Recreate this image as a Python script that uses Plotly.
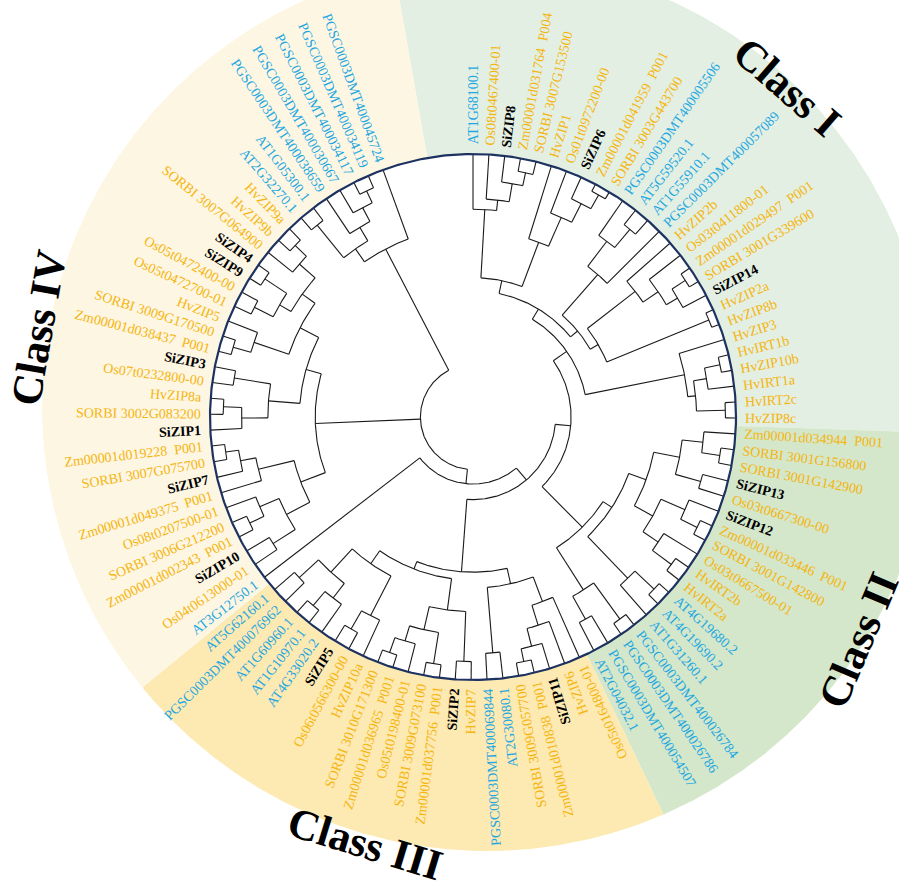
import math
import plotly.graph_objects as go

# ---------------- data ----------------
leaf_labels = [
    "AT1G68100.1", "Os08t0467400-01", "SiZIP8", "Zm00001d031764 P004", "SORBI 3007G153500",
    "HvZIP1", "Os01t0972200-00", "SiZIP6", "Zm00001d041959 P001", "SORBI 3003G443700",
    "PGSC0003DMT400005506", "AT5G59520.1", "AT1G55910.1", "PGSC0003DMT400057089", "HvZIP2b",
    "Os03t0411800-01", "Zm00001d029497 P001", "SORBI 3001G339600", "SiZIP14", "HvZIP2a",
    "HvZIP8b", "HvZIP3", "HvIRT1b", "HvZIP10b", "HvIRT1a", "HvIRT2c", "HvZIP8c",
    "Zm00001d034944 P001", "SORBI 3001G156800", "SORBI 3001G142900", "SiZIP13", "Os03t0667300-00",
    "SiZIP12", "Zm00001d033446 P001", "SORBI 3001G142800", "Os03t0667500-01", "HvIRT2b", "HvIRT2a",
    "AT4G19680.2", "AT4G19690.2", "AT1G31260.1", "PGSC0003DMT400026784", "PGSC0003DMT400026786",
    "PGSC0003DMT400054507", "AT2G04032.1",
    "Os05t0164800-01", "HvZIP6", "SiZIP11", "Zm00001d010838 P001", "SORBI 3009G057700",
    "AT2G30080.1", "PGSC0003DMT400069844", "HvZIP7", "SiZIP2", "Zm00001d037756 P001",
    "SORBI 3009G073100", "Os05t0198400-01", "Zm00001d036965 P001", "SORBI 3010G171300", "HvZIP10a",
    "Os06t0566300-00", "SiZIP5", "AT4G33020.2", "AT1G10970.1", "AT1G60960.1",
    "PGSC0003DMT400076962", "AT5G62160.1",
    "AT3G12750.1", "Os04t0613000-01", "SiZIP10", "Zm00001d002343 P001", "SORBI 3006G212200",
    "Os08t0207500-01", "Zm00001d049375 P001", "SiZIP7", "SORBI 3007G075700", "Zm00001d019228 P001",
    "SiZIP1", "SORBI 3002G083200", "HvZIP8a", "Os07t0232800-00", "SiZIP3", "Zm00001d038437 P001",
    "SORBI 3009G170500", "HvZIP5", "Os05t0472700-01", "Os05t0472400-00", "SiZIP9", "SiZIP4",
    "SORBI 3007G064900", "HvZIP9b", "HvZIP9a", "AT2G32270.1", "AT1G05300.1",
    "PGSC0003DMT400038659", "PGSC0003DMT400030667", "PGSC0003DMT400034117",
    "PGSC0003DMT400034119", "PGSC0003DMT400045724",
]
class_names = ["Class I", "Class II", "Class III", "Class IV"]
class_sizes = [27, 18, 22, 32]

# tree topology (Newick; internal labels = node radius relative to the tip ring)
clade_I_a = "(AT1G68100.1,(Os08t0467400-01,(SiZIP8,(Zm00001d031764_P004,SORBI_3007G153500)0.95)0.9)0.83)0.79"
clade_I_b = "(HvZIP1,(Os01t0972200-00,(SiZIP6,(Zm00001d041959_P001,SORBI_3003G443700)0.97)0.91)0.83)0.71"
clade_I_c = "((PGSC0003DMT400005506,(AT5G59520.1,AT1G55910.1)0.93)0.84,PGSC0003DMT400057089)0.72"
clade_I_d = "(HvZIP2b,(Os03t0411800-01,((Zm00001d029497_P001,SORBI_3001G339600)0.96,SiZIP14)0.9)0.85)0.78"
clade_I_e = "(HvZIP2a,HvZIP8b)0.97"
clade_I_f = "(HvZIP3,(((HvIRT1b,HvZIP10b)0.96,HvIRT1a)0.9,(HvIRT2c,HvZIP8c)0.96)0.85)0.82"
clade_II_a = ("(((Zm00001d034944_P001,(SORBI_3001G156800,SORBI_3001G142900)0.95)0.88,(SiZIP13,Os03t0667300-00)0.9)0.8,"
              "((SiZIP12,(Zm00001d033446_P001,SORBI_3001G142800)0.95)0.88,(Os03t0667500-01,(HvIRT2b,HvIRT2a)0.94)0.85)0.78)0.7")
clade_II_b = "((AT4G19680.2,AT4G19690.2)0.95,AT1G31260.1)0.85"
clade_II_c = ("((PGSC0003DMT400026784,PGSC0003DMT400026786)0.95,"
              "(PGSC0003DMT400054507,AT2G04032.1)0.88)0.78")
clade_III_a = ("((Os05t0164800-01,(HvZIP6,(SiZIP11,(Zm00001d010838_P001,SORBI_3009G057700)0.95)0.9)0.83)0.75,"
               "(AT2G30080.1,PGSC0003DMT400069844)0.9)0.65")
clade_III_b = ("(((HvZIP7,SiZIP2)0.93,((Zm00001d037756_P001,SORBI_3009G073100)0.95,(Os05t0198400-01,"
               "(Zm00001d036965_P001,SORBI_3010G171300)0.95)0.89)0.83)0.74,((HvZIP10a,(Os06t0566300-00,SiZIP5)0.93)0.85,"
               "((AT4G33020.2,(AT1G10970.1,AT1G60960.1)0.94)0.87,(PGSC0003DMT400076962,AT5G62160.1)0.9)0.8)0.68)0.62")
clade_IV_a = ("(((Os04t0613000-01,SiZIP10)0.9,((Zm00001d002343_P001,SORBI_3006G212200)0.94,Os08t0207500-01)0.88)0.8,"
              "(Zm00001d049375_P001,(SiZIP7,(SORBI_3007G075700,Zm00001d019228_P001)0.95)0.9)0.84)0.7")
clade_IV_b = ("(((SiZIP1,(SORBI_3002G083200,HvZIP8a)0.95)0.88,(Os07t0232800-00,SiZIP3)0.92)0.78,"
              "(((Zm00001d038437_P001,SORBI_3009G170500)0.95,HvZIP5)0.88,(((Os05t0472700-01,Os05t0472400-00)0.93,"
              "(SiZIP9,SiZIP4)0.95)0.85,(SORBI_3007G064900,(HvZIP9b,HvZIP9a)0.94)0.88)0.8)0.74)0.66")
clade_IV_c = ("(((AT2G32270.1,AT1G05300.1)0.94,(PGSC0003DMT400038659,(PGSC0003DMT400030667,"
              "(PGSC0003DMT400034117,PGSC0003DMT400034119)0.95)0.9)0.84)0.78,PGSC0003DMT400045724)0.72")

group_I_upper = ("((" + clade_I_a + "," + clade_I_b + ")0.53,(" + clade_I_c + ",(" + clade_I_d + ","
                 + clade_I_e + ")0.55)0.515)0.48")
group_I = "(" + group_I_upper + "," + clade_I_f + ")0.435"
group_II = "((" + clade_II_a + "," + clade_II_b + ")0.63," + clade_II_c + ")0.59"
group_III = "(" + clade_III_a + "," + clade_III_b + ")0.59"
group_IV = "(" + clade_IV_a + "," + clade_IV_b + ")0.6"
tree_newick = ("((((" + group_I + "," + group_II + ")0.373," + group_III + ")0.314,AT3G12750.1)0.255,"
               + group_IV + "," + clade_IV_c + ")0.2;")

# ---------------- layout constants ----------------
W, H = 899, 881
CX, CY = 473, 417            # tree centre (pixels)
R_RING = 263.0
BG_C = (487 - CX, CY - 406)  # background disc centre, data coords
BG_R = 445.0
LABEL_R0 = 272.0
ARC_SPAN = 340.0
FLIP_BELOW = -64.4
ORANGE = "#F5B50F"
BLUE = "#1EA7E1"
FONT = "Liberation Serif"
FS = 14
class_colors = ["#E3EFE2", "#D4E7CA", "#FDE9B2", "#FDF6E2"]


def parse_newick(s):
    s = "".join(s.split()).rstrip(";")
    pos = [0]

    def label():
        st = pos[0]
        while pos[0] < len(s) and s[pos[0]] not in "(),":
            pos[0] += 1
        return s[st:pos[0]]

    def node():
        if s[pos[0]] == "(":
            pos[0] += 1
            ch = [node()]
            while s[pos[0]] == ",":
                pos[0] += 1
                ch.append(node())
            pos[0] += 1
            return {"children": ch, "r": float(label())}
        return {"name": label().replace("_", " "), "r": 1.0}

    return node()


tree = parse_newick(tree_newick)
n = len(leaf_labels)
step = ARC_SPAN / (n - 1)
order = []


def set_angles(nd):
    if "name" in nd:
        nd["a"] = 90.0 - len(order) * step
        order.append(nd["name"])
    else:
        for c in nd["children"]:
            set_angles(c)
        nd["a"] = (nd["children"][0]["a"] + nd["children"][-1]["a"]) / 2.0


set_angles(tree)
assert order == leaf_labels, [(a, b) for a, b in zip(order, leaf_labels) if a != b]

lx, ly = [], []


def pol(r, a):
    return r * math.cos(math.radians(a)), r * math.sin(math.radians(a))


def add_arc(r, a0, a1):
    k = max(2, int(abs(a1 - a0) / 0.5) + 1)
    for j in range(k + 1):
        x, y = pol(r, a0 + (a1 - a0) * j / k)
        lx.append(x); ly.append(y)
    lx.append(None); ly.append(None)


def draw(nd, parent_r=None):
    if parent_r is not None:
        x0, y0 = pol(parent_r * R_RING, nd["a"])
        x1, y1 = pol(nd["r"] * R_RING, nd["a"])
        lx.extend([x0, x1, None]); ly.extend([y0, y1, None])
    if "children" in nd:
        add_arc(nd["r"] * R_RING, nd["children"][0]["a"], nd["children"][-1]["a"])
        for c in nd["children"]:
            draw(c, nd["r"])


draw(tree)

fig = go.Figure()

# class background sectors
leaf_angles = [90.0 - i * step for i in range(n)]
bounds = []
start = 0
for sz in class_sizes:
    end = start + sz - 1
    hi = (leaf_angles[start] + leaf_angles[start - 1] + (360 if start == 0 else 0)) / 2.0
    lo = (leaf_angles[end] + (leaf_angles[end + 1] if end + 1 < n else leaf_angles[0] - 360)) / 2.0
    bounds.append((hi, lo))
    start = end + 1


def outer_pt(a):
    ux, uy = math.cos(math.radians(a)), math.sin(math.radians(a))
    dx, dy = -BG_C[0], -BG_C[1]
    du = dx * ux + dy * uy
    t = -du + math.sqrt(du * du - (dx * dx + dy * dy) + BG_R ** 2)
    return t * ux, t * uy


for (hi, lo), col in zip(bounds, class_colors):
    k = 240
    px, py = [], []
    for j in range(k + 1):
        x, y = outer_pt(hi + (lo - hi) * j / k)
        px.append(x); py.append(y)
    for j in range(k + 1):
        x, y = pol(R_RING, lo + (hi - lo) * j / k)
        px.append(x); py.append(y)
    fig.add_trace(go.Scatter(x=px, y=py, fill="toself", fillcolor=col, mode="lines",
                             line=dict(width=0, color=col), hoverinfo="skip"))

# tree branches
fig.add_trace(go.Scatter(x=lx, y=ly, mode="lines", line=dict(color="#1a1a1a", width=1.1),
                         hoverinfo="skip"))

# ring
rx, ry = [], []
for j in range(721):
    x, y = pol(R_RING, j * 0.5)
    rx.append(x); ry.append(y)
fig.add_trace(go.Scatter(x=rx, y=ry, mode="lines", line=dict(color="#1D3260", width=2.2),
                         hoverinfo="skip"))

# text width estimates (Times metrics)
REG = {' ': 250, '.': 250, '-': 333, '\u00a0': 250}
REG.update({d: 500 for d in "0123456789"})
REG.update(dict(zip("ABCDEFGHIJKLMNOPQRSTUVWXYZ",
                    [722, 667, 667, 722, 611, 556, 722, 722, 333, 389, 722, 611, 889, 722, 722, 556,
                     722, 667, 556, 611, 722, 722, 944, 722, 722, 611])))
REG.update(dict(zip("abcdefghijklmnopqrstuvwxyz",
                    [444, 500, 444, 500, 444, 333, 500, 500, 278, 278, 500, 278, 778, 500, 500, 500,
                     500, 333, 389, 278, 500, 500, 722, 500, 500, 444])))
BOLD = dict(REG)
BOLD.update({'S': 556, 'i': 278, 'Z': 667, 'I': 389, 'P': 611})


def text_w(t, bold=False):
    tb = BOLD if bold else REG
    return sum(tb.get(c, 500) for c in t) / 1000.0 * FS


annotations = []
for i, name in enumerate(leaf_labels):
    a = leaf_angles[i]
    disp = name.replace(" P0", "\u00a0\u00a0P0") if name.startswith("Zm") else name
    if name.startswith("SiZIP"):
        col, bold = "#000000", True
    elif name.startswith("AT") or name.startswith("PGSC"):
        col, bold = BLUE, False
    else:
        col, bold = ORANGE, False
    w = text_w(disp, bold)
    rc = LABEL_R0 + w / 2.0
    x, y = pol(rc, a)
    flip = a < FLIP_BELOW
    ang = -(a + 180.0) if flip else -a
    while ang > 180:
        ang -= 360
    while ang <= -180:
        ang += 360
    annotations.append(dict(x=x, y=y, xref="x", yref="y", showarrow=False,
                            text=("<b>%s</b>" % disp) if bold else disp, textangle=ang,
                            xanchor="center", yanchor="middle",
                            font=dict(family=FONT, size=FS, color=col)))

class_label_pos = [(787, 86, 41), (858, 640, -67), (365, 843, 17), (38, 328, -80)]
for nm, (px, py, ta) in zip(class_names, class_label_pos):
    annotations.append(dict(x=px - CX, y=CY - py, xref="x", yref="y", showarrow=False,
                            text="<b>%s</b>" % nm, textangle=ta, xanchor="center", yanchor="middle",
                            font=dict(family=FONT, size=43, color="#000000")))

fig.update_layout(
    width=W, height=H, autosize=False,
    margin=dict(l=0, r=0, t=0, b=0),
    paper_bgcolor="white", plot_bgcolor="white",
    showlegend=False, hovermode=False,
    xaxis=dict(range=[-CX, W - CX], visible=False, fixedrange=True),
    yaxis=dict(range=[CY - H, CY], visible=False, fixedrange=True),
    annotations=annotations,
)

fig.write_html("out.html", config={"displayModeBar": False},
               post_script="document.body.style.margin='0';document.body.style.overflow='hidden';")
